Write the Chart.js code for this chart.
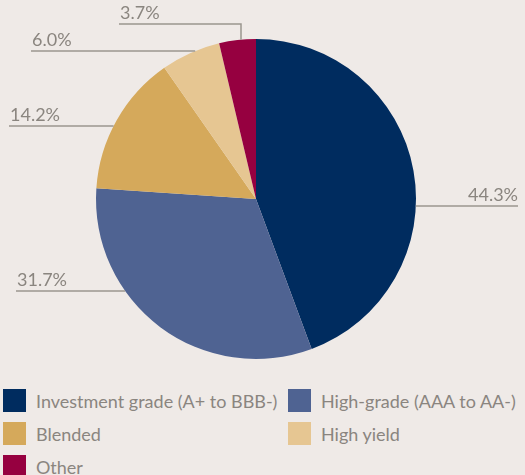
<!DOCTYPE html>
<html>
<head>
<meta charset="utf-8">
<script src="https://cdn.jsdelivr.net/npm/chart.js@4"></script>
<style>
  html, body { margin: 0; padding: 0; background: #efeae7; }
  body { width: 525px; height: 475px; overflow: hidden; position: relative; font-family: Lato, "Open Sans", sans-serif; }
  #wrap { position: absolute; left: 0; top: 0; width: 525px; height: 380px; }
  #legend { position: absolute; left: 3px; top: 389px; display: grid; grid-template-columns: 285px 230px; row-gap: 10px; }
  .item { display: flex; align-items: center; height: 23px; color: #8a857f; font-size: 18px; }
  .box { width: 23px; height: 23px; margin-right: 10px; flex: none; }
</style>
</head>
<body>
<div id="wrap"><canvas id="pieChart"></canvas></div>
<div id="legend"></div>
<script>
const categories = ["Investment grade (A+ to BBB-)", "High-grade (AAA to AA-)", "Blended", "High yield", "Other"];
const shares = [44.3, 31.7, 14.2, 6.0, 3.7];
const sliceColors = ["#002c5f", "#4f6392", "#d5a95b", "#e6c692", "#960040"];

// leader line layout per slice (offset from centre, outer end of line)
const leaders = [
  { dy: 7, outerX: 518, side: "right" },
  { dy: 92, outerX: 16, side: "left" },
  { dy: -73, outerX: 9, side: "left" },
  { dy: -148, outerX: 31, side: "left" },
  { dy: -175, outerX: 119, side: "left", elbowDx: -15 },
];

const leaderPlugin = {
  id: "leaders",
  afterDatasetsDraw(chart) {
    const ctx = chart.ctx;
    const arc = chart.getDatasetMeta(0).data[0];
    const cx = arc.x, cy = arc.y, r = arc.outerRadius;
    ctx.save();
    ctx.strokeStyle = "#9b968f";
    ctx.lineWidth = 1.5;
    ctx.fillStyle = "#8a857f";
    ctx.font = "18px Lato, 'Open Sans', sans-serif";
    ctx.textBaseline = "alphabetic";
    leaders.forEach((l, i) => {
      const y = cy + l.dy;
      ctx.beginPath();
      if (l.elbowDx !== undefined) {
        const ex = cx + l.elbowDx;
        const ey = cy - Math.sqrt(r * r - l.elbowDx * l.elbowDx);
        ctx.moveTo(l.outerX, y);
        ctx.lineTo(ex, y);
        ctx.lineTo(ex, ey);
      } else {
        const half = Math.sqrt(r * r - l.dy * l.dy);
        const edgeX = l.side === "right" ? cx + half : cx - half;
        ctx.moveTo(edgeX, y);
        ctx.lineTo(l.outerX, y);
      }
      ctx.stroke();
      const txt = shares[i].toFixed(1) + "%";
      if (l.side === "right") {
        ctx.textAlign = "right";
        ctx.fillText(txt, l.outerX, y - 5);
      } else {
        ctx.textAlign = "left";
        ctx.fillText(txt, l.outerX + 1, y - 5);
      }
    });
    ctx.restore();
  },
};

const ctx = document.getElementById("pieChart").getContext("2d");
const pieChart = new Chart(ctx, {
  type: "pie",
  data: {
    labels: categories,
    datasets: [
      {
        data: shares,
        backgroundColor: sliceColors,
        borderWidth: 0,
      },
    ],
  },
  options: {
    responsive: true,
    maintainAspectRatio: false,
    animation: false,
    layout: { padding: { top: 39, bottom: 21, left: 0, right: 13 } },
    plugins: {
      legend: { display: false },
      tooltip: { enabled: false },
    },
  },
  plugins: [leaderPlugin],
});

// legend below the pie
const legend = document.getElementById("legend");
categories.forEach((c, i) => {
  const item = document.createElement("div");
  item.className = "item";
  item.innerHTML = '<span class="box" style="background:' + sliceColors[i] + '"></span>' + c;
  legend.appendChild(item);
});
</script>
</body>
</html>
